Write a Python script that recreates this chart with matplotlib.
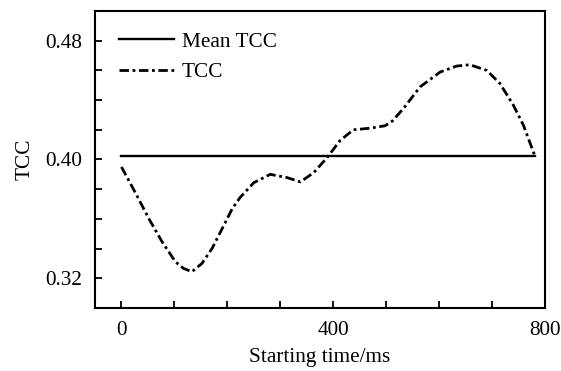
import matplotlib
matplotlib.use('Agg')
import matplotlib.pyplot as plt
import numpy as np

plt.rcParams['font.family'] = ['Liberation Serif', 'DejaVu Serif']

# values
time_ms = [0, 26, 52, 77, 102, 117, 133, 152, 171, 190, 209, 224, 250, 281,
           313, 338, 363, 388, 413, 438, 470, 498, 512, 533, 564, 602, 633,
           658, 690, 715, 740, 759, 781]
tcc = [0.395, 0.3778, 0.360, 0.3444, 0.3311, 0.3267, 0.3244, 0.330, 0.340,
       0.3533, 0.3667, 0.3744, 0.3844, 0.390, 0.3878, 0.3849, 0.3911, 0.4011,
       0.4128, 0.420, 0.4211, 0.4227, 0.426, 0.4345, 0.4489, 0.4589, 0.4629,
       0.4638, 0.460, 0.4511, 0.4367, 0.4233, 0.4022]
mean_tcc = 0.4022
mean_x = [0, 781]


def plot_tcc():
    fig = plt.figure(figsize=(5.61, 3.71), dpi=100)
    ax = fig.add_axes([0.1693, 0.1698, 0.8022, 0.8006])

    ax.plot(mean_x, [mean_tcc, mean_tcc], color='k', lw=1.7, label='Mean TCC')
    ax.plot(time_ms, tcc, color='k', lw=2.0, dashes=[3.4, 1.3, 1.0, 1.3],
            label='TCC')

    ax.set_xlim(-50, 800)
    ax.set_ylim(0.30, 0.50)
    xt = np.arange(0, 801, 100)
    ax.set_xticks(xt)
    ax.set_xticklabels([str(v) if v % 400 == 0 else '' for v in xt])
    yt = np.arange(0.30, 0.5001, 0.02)
    ax.set_yticks(yt)
    ax.set_yticklabels(['%.2f' % v if round(v * 100) in (32, 40, 48) else ''
                        for v in yt])
    ax.tick_params(direction='in', length=5, width=1.3, labelsize=15.3)
    ax.tick_params(axis='y', pad=9)
    ax.tick_params(axis='x', pad=9)
    for s in ax.spines.values():
        s.set_linewidth(1.5)

    ax.set_xlabel('Starting time/ms', fontsize=15.3, labelpad=6)
    ax.set_ylabel('TCC', fontsize=15.3, labelpad=8)
    ax.legend(loc='upper left', frameon=False, fontsize=15.3, handlelength=2.6,
              borderaxespad=0.3, labelspacing=0.5, handletextpad=0.35,
              bbox_to_anchor=(0.02, 0.98))

    fig.savefig('out.png', dpi=100)


if __name__ == "__main__":
    plot_tcc()
